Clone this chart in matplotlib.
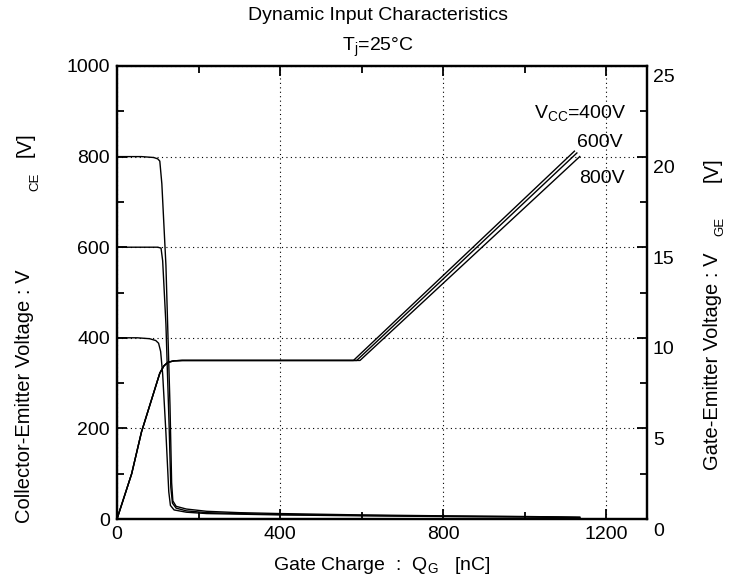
import matplotlib
matplotlib.use('Agg')
import matplotlib.pyplot as plt
from matplotlib.ticker import MultipleLocator
import matplotlib.transforms as mtrans

plt.rcParams['font.family'] = ['Liberation Sans', 'DejaVu Sans']
plt.rcParams['mathtext.fontset'] = 'custom'
plt.rcParams['mathtext.rm'] = 'Liberation Sans'
plt.rcParams['mathtext.it'] = 'Liberation Sans:italic'

# ---- data ----
q_vce800 = [0, 60, 90, 100, 105, 110, 120, 130, 134, 137, 145, 170, 220, 300, 400, 600, 800, 1000, 1135]
vce800 = [800, 800, 798, 795, 790, 740, 560, 250, 80, 40, 28, 22, 17, 14, 12, 9, 7, 5.5, 4]
q_vce600 = [0, 100, 108, 112, 120, 128, 132, 136, 145, 170, 220, 300, 400, 600, 800, 1000, 1135]
vce600 = [600, 600, 598, 570, 430, 200, 70, 35, 24, 18, 14, 12, 10, 8, 6, 5, 3.5]
q_vce400 = [0, 50, 80, 95, 102, 107, 112, 120, 127, 131, 140, 170, 220, 400, 600, 800, 1000, 1135]
vce400 = [400, 400, 398, 394, 388, 370, 320, 190, 60, 30, 20, 15, 12, 9, 7, 5.5, 4.5, 3]

q_vge400 = [0, 36, 60, 105, 115, 125, 140, 160, 580, 1122]
vge400 = [0, 2.5, 4.8, 8.05, 8.45, 8.65, 8.73, 8.75, 8.75, 20.3]
q_vge600 = [0, 36, 60, 105, 115, 125, 140, 160, 588, 1128]
vge600 = [0, 2.5, 4.8, 8.05, 8.45, 8.65, 8.73, 8.75, 8.75, 20.2]
q_vge800 = [0, 36, 60, 105, 115, 125, 140, 160, 596, 1135]
vge800 = [0, 2.5, 4.8, 8.05, 8.45, 8.65, 8.73, 8.75, 8.75, 20.0]

x_ticks = [0, 400, 800, 1200]
y_left_ticks = [0, 200, 400, 600, 800, 1000]
y_right_ticks = [0, 5, 10, 15, 20, 25]

fig = plt.figure(figsize=(7.39, 5.83), dpi=100)
ax = fig.add_axes([117/739, 1-519/583, 530/739, 453/583])
ax2 = ax.twinx()

lw = 1.0
ax.plot(q_vce800, vce800, color='black', lw=lw)
ax.plot(q_vce600, vce600, color='black', lw=lw)
ax.plot(q_vce400, vce400, color='black', lw=lw)
ax2.plot(q_vge400, vge400, color='black', lw=lw)
ax2.plot(q_vge600, vge600, color='black', lw=lw)
ax2.plot(q_vge800, vge800, color='black', lw=lw)

ax.set_xlim(0, 1300)
ax.set_ylim(0, 1000)
ax2.set_ylim(0, 25)

ax.set_xticks(x_ticks)
ax.set_yticks(y_left_ticks)
ax.xaxis.set_minor_locator(MultipleLocator(200))
ax.yaxis.set_minor_locator(MultipleLocator(100))
ax2.set_yticks(y_right_ticks)
ax2.yaxis.set_minor_locator(MultipleLocator(2.5))

ax.tick_params(which='both', direction='in', top=True, right=False, labelsize=14, width=1.3, pad=5)
ax.tick_params(which='major', length=7)
ax.tick_params(which='minor', length=5)
ax2.tick_params(which='both', direction='in', right=True, labelright=False, width=1.3)
ax2.tick_params(which='major', length=7)
ax2.tick_params(which='minor', length=5)

for a in (ax, ax2):
    for s in a.spines.values():
        s.set_linewidth(1.6)

ax.grid(True, which='major', linestyle=(0, (1, 3)), color='black', lw=0.8)

# right tick labels drawn slightly below the ticks
trans = mtrans.blended_transform_factory(ax.transAxes, ax2.transData)
off = mtrans.ScaledTranslation(6/100, -12/100, fig.dpi_scale_trans)
for v in y_right_ticks:
    ax2.text(1.0, v, str(v), transform=trans + off, ha='left', va='center', fontsize=14)

# curve labels
ax2.text(1250, 22.4, r'V$_\mathregular{CC}$=400V', fontsize=14, ha='right', va='center')
ax2.text(1129, 20.8, '600V', fontsize=14, ha='left', va='center')
ax2.text(1134, 18.8, '800V', fontsize=14, ha='left', va='center')

# titles
fig.text(378/739, 1-15/583, 'Dynamic Input Characteristics', ha='center', va='center', fontsize=14)
fig.text(378/739, 1-47/583, r'T$_\mathregular{j}$=25°C', ha='center', va='center', fontsize=14)

# axis labels
fig.text(382/739, 1-565/583, r'Gate Charge  :  Q$_\mathregular{G}$   [nC]', ha='center', va='center', fontsize=14)

fig.text(25/739, 1-523/583, 'Collector-Emitter Voltage : V', rotation=90, ha='center', va='bottom', fontsize=14.5)
fig.text(35/739, 1-182/583, 'CE', rotation=90, ha='center', va='center', fontsize=9.5)
fig.text(25/739, 1-145/583, '[V]', rotation=90, ha='center', va='center', fontsize=14.5)

fig.text(712/739, 1-470/583, 'Gate-Emitter Voltage : V', rotation=90, ha='center', va='bottom', fontsize=14.5)
fig.text(720/739, 1-226/583, 'GE', rotation=90, ha='center', va='center', fontsize=9.5)
fig.text(712/739, 1-170/583, '[V]', rotation=90, ha='center', va='center', fontsize=14.5)

fig.savefig('out.png', dpi=100)
